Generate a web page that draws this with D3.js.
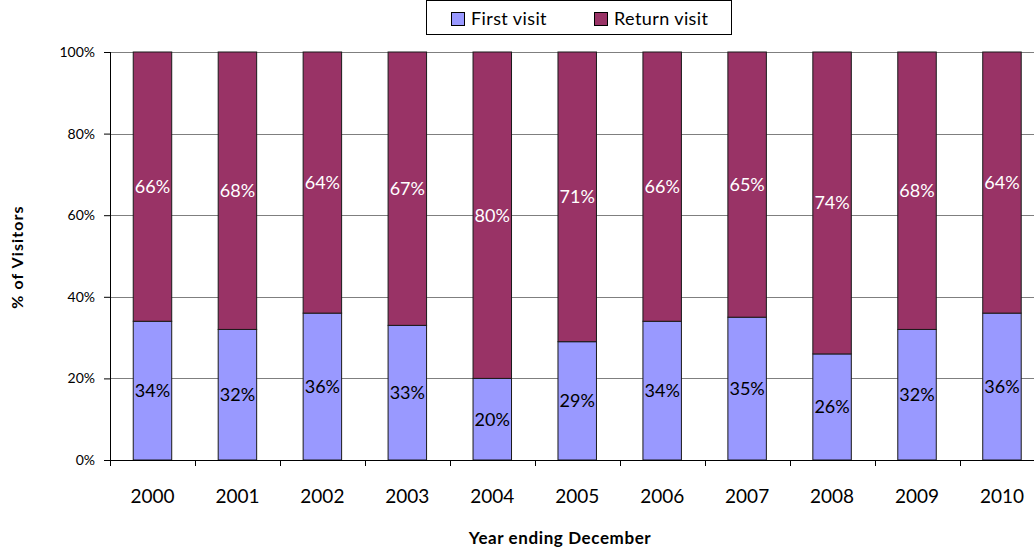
<!DOCTYPE html>
<html>
<head>
<meta charset="utf-8">
<script src="https://cdn.jsdelivr.net/npm/d3@7"></script>
<style>
  body { margin: 0; background: #fff; }
  svg { display: block; font-family: "Lato", "Open Sans", sans-serif; }
</style>
</head>
<body>
<svg id="chart" width="1034" height="551"></svg>
<script>
// Share of visitors by visit type, per year
const years = ["2000", "2001", "2002", "2003", "2004", "2005", "2006", "2007", "2008", "2009", "2010"];
const firstVisit = [34, 32, 36, 33, 20, 29, 34, 35, 26, 32, 36];
const returnVisit = [66, 68, 64, 67, 80, 71, 66, 65, 74, 68, 64];
const yTicks = [0, 20, 40, 60, 80, 100];
const seriesNames = ["First visit", "Return visit"];
const seriesColors = ["#9999FF", "#993366"];

const svg = d3.select("#chart");
const plotLeft = 110, plotTop = 52, plotBottom = 460;
const step = 84.95;

const x = d3.scaleBand()
  .domain(years)
  .range([plotLeft, plotLeft + step * years.length])
  .paddingInner(0.547)
  .paddingOuter(0.2735);

const y = d3.scaleLinear().domain([0, 100]).range([plotBottom, plotTop]);

// horizontal gridlines
svg.append("g")
  .selectAll("line")
  .data(yTicks.filter(d => d > 0))
  .join("line")
  .attr("x1", plotLeft).attr("x2", 1034)
  .attr("y1", d => Math.round(y(d)) + 0.5).attr("y2", d => Math.round(y(d)) + 0.5)
  .attr("stroke", "#7f7f7f").attr("stroke-width", 1);

// stacked bars
const rows = years.map((yr, i) => ({ year: yr, first: firstVisit[i], ret: returnVisit[i] }));
const stack = d3.stack().keys(["first", "ret"])(rows);

const layers = svg.append("g").selectAll("g")
  .data(stack)
  .join("g")
  .attr("fill", (d, i) => seriesColors[i]);

layers.selectAll("rect")
  .data(d => d)
  .join("rect")
  .attr("x", d => x(d.data.year))
  .attr("width", x.bandwidth())
  .attr("y", d => y(d[1]))
  .attr("height", d => y(d[0]) - y(d[1]))
  .attr("stroke", "#1a1a1a")
  .attr("stroke-width", 1);

// value labels centred in each segment
layers.each(function (layer) {
  d3.select(this).selectAll("text")
    .data(layer)
    .join("text")
    .attr("x", d => x(d.data.year) + x.bandwidth() / 2)
    .attr("y", d => (y(d[0]) + y(d[1])) / 2)
    .attr("dy", "0.35em")
    .attr("text-anchor", "middle")
    .attr("font-size", 18)
    .attr("fill", layer.key === "ret" ? "#ffffff" : "#000000")
    .text(d => (d[1] - d[0]) + "%");
});

// y axis
const yAxis = svg.append("g")
  .attr("transform", `translate(${plotLeft},0)`)
  .call(d3.axisLeft(y).tickValues(yTicks).tickFormat(d => d + "%").tickSize(6).tickPadding(9));
yAxis.select(".domain").attr("stroke", "#000").attr("d", `M0.5,${plotTop}V${plotBottom}`);
yAxis.selectAll(".tick line").attr("stroke", "#000");
yAxis.selectAll("text").attr("font-size", 14).attr("fill", "#000").attr("font-family", "Lato, sans-serif");

// x axis: ticks at category boundaries
const xAxisG = svg.append("g").attr("transform", `translate(0,${plotBottom})`);
xAxisG.append("line")
  .attr("x1", plotLeft).attr("x2", 1034).attr("y1", 0.5).attr("y2", 0.5)
  .attr("stroke", "#000");
const bounds = d3.range(years.length + 1).map(i => plotLeft + i * x.step());
xAxisG.selectAll("line.tk")
  .data(bounds)
  .join("line")
  .attr("class", "tk")
  .attr("x1", d => Math.round(d) + 0.5).attr("x2", d => Math.round(d) + 0.5)
  .attr("y1", 0).attr("y2", 6)
  .attr("stroke", "#000");
xAxisG.selectAll("text")
  .data(years)
  .join("text")
  .attr("x", d => x(d) + x.bandwidth() / 2)
  .attr("y", 43)
  .attr("text-anchor", "middle")
  .attr("font-size", 19)
  .attr("fill", "#000")
  .text(d => d);

// axis titles
svg.append("text")
  .attr("x", 560).attr("y", 544)
  .attr("text-anchor", "middle")
  .attr("font-size", 17).attr("font-weight", "bold")
  .attr("letter-spacing", 0.6)
  .text("Year ending December");

svg.append("text")
  .attr("transform", "translate(23,257) rotate(-90)")
  .attr("text-anchor", "middle")
  .attr("font-size", 16).attr("font-weight", "bold")
  .attr("letter-spacing", 1.1)
  .text("% of Visitors");

// legend
const legend = svg.append("g");
legend.append("rect")
  .attr("x", 426.5).attr("y", 0.5).attr("width", 305).attr("height", 34)
  .attr("fill", "#fff").attr("stroke", "#000");
const legendX = [451, 594];
seriesNames.forEach((name, i) => {
  legend.append("rect")
    .attr("x", legendX[i] + 0.5).attr("y", 12.5).attr("width", 13).attr("height", 13)
    .attr("fill", seriesColors[i]).attr("stroke", "#000");
  legend.append("text")
    .attr("x", legendX[i] + 20).attr("y", 19)
    .attr("dy", "0.35em")
    .attr("font-size", 18)
    .attr("letter-spacing", 0.4)
    .text(name);
});
</script>
</body>
</html>
